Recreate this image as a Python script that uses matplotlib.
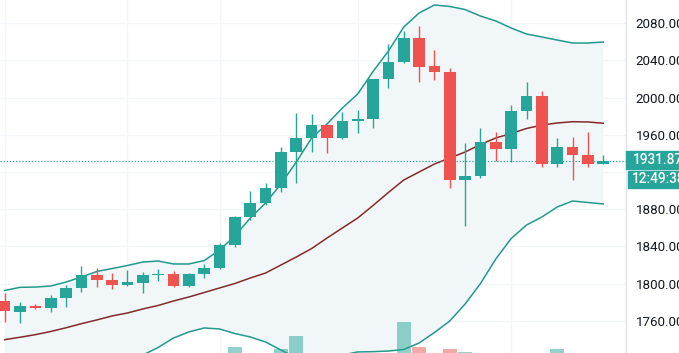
import matplotlib
matplotlib.use("Agg")
import matplotlib.pyplot as plt
from matplotlib.patches import Rectangle
import numpy as np

# ---- data ----
opens  = [1781, 1770, 1776, 1774, 1785, 1795, 1809, 1804, 1799, 1801,
          1809, 1810, 1797, 1810, 1817, 1842, 1872, 1887, 1903, 1942,
          1957, 1971, 1957, 1975, 1977, 2020, 2038, 2064, 2034, 2028,
          1911.5, 1916, 1952, 1945, 1986, 2002, 1929, 1947, 1938, 1929]
highs  = [1790, 1780, 1778, 1788, 1799, 1819, 1817, 1811, 1815, 1813,
          1816, 1814, 1811, 1821, 1844, 1873, 1900, 1908, 1947, 1984,
          1983, 1971, 1985, 1987, 2020.5, 2058, 2072, 2077, 2051, 2032,
          1951, 1967, 1963, 1992, 2017, 2007, 1957, 1958, 1963, 1938]
lows   = [1759, 1758, 1773, 1770, 1775, 1791, 1796, 1794, 1798, 1790,
          1803, 1796, 1796, 1806, 1816, 1839.5, 1868, 1885, 1899, 1908,
          1941.6, 1940, 1956, 1962, 1967, 2010, 2037, 2017, 2019, 1903,
          1862, 1914, 1932, 1931, 1977, 1925.5, 1925.5, 1911.5, 1925.5, 1928.5]
closes = [1771, 1776, 1774, 1785, 1795, 1809, 1804, 1799, 1802, 1809,
          1810.5, 1797, 1810, 1817, 1842, 1872, 1887, 1903, 1942, 1957,
          1971, 1957, 1975, 1977, 2020, 2038, 2064, 2033, 2028, 1911.5,
          1916, 1952, 1945, 1986, 2002, 1929, 1947, 1938, 1929, 1931.87]

bb_upper = [1792.7, 1796.1, 1796.4, 1797.5, 1801.8, 1807.2, 1813.1, 1816.3, 1819.6, 1823.3,
            1824.4, 1821.2, 1821.2, 1824.9, 1836.2, 1851.3, 1870.6, 1886.8, 1907.2, 1930.9,
            1956.7, 1971.7, 1988.9, 2004.0, 2028.2, 2050.2, 2076.0, 2091.1, 2099.7, 2098.1,
            2094.8, 2087.8, 2082.5, 2074.9, 2068.5, 2065.3, 2062.0, 2058.8, 2058.8, 2059.9]
bb_basis = [1739.8, 1742.4, 1745.2, 1748.6, 1752.6, 1757.0, 1761.0, 1765.3, 1768.5, 1772.8,
            1776.6, 1781.4, 1785.7, 1790.5, 1795.4, 1800.2, 1806.1, 1811.5, 1820.1, 1828.7,
            1837.8, 1849.1, 1859.9, 1870.6, 1884.1, 1898.1, 1911.5, 1920.1, 1928.7, 1935.2,
            1941.6, 1949.7, 1956.7, 1961.5, 1966.9, 1970.6, 1972.8, 1974.2, 1973.9, 1972.5]
bb_lower = [1686.8, 1688.9, 1694.3, 1699.7, 1703.3, 1707.2, 1708.8, 1714.2, 1717.4, 1723.3,
            1731.4, 1741.6, 1748.1, 1752.4, 1751.3, 1746.4, 1742.7, 1737.3, 1728.7, 1720.1,
            1715.8, 1717.9, 1723.3, 1726.6, 1726.9, 1727.6, 1729.2, 1736.2, 1747.5, 1759.9,
            1778.2, 1800.2, 1826.6, 1848.6, 1863.1, 1871.7, 1882.5, 1888.9, 1887.3, 1885.7]

volumes = [70, 65, 55, 60, 72, 80, 62, 58, 50, 66,
           48, 75, 78, 70, 95, 112, 98, 96, 108, 134,
           90, 85, 70, 60, 97, 94, 162, 112, 88, 108,
           103, 92, 70, 95, 80, 99, 108, 76, 74, 40]

price_ticks = [1760, 1800, 1840, 1880, 1960, 2000, 2040, 2080]
grid_prices = [1760, 1800, 1840, 1880, 1920, 1960, 2000, 2040, 2080]
grid_candles = [0, 8, 14, 23, 33]
last_price_label = "1931.87"
countdown_label = "12:49:38"

# ---- style ----
UP = "#26a69a"
DOWN = "#ef5350"
BAND = "#22998c"
BASIS = "#842a2b"
FILL = "#f1f7f8"
GRID = "#f3f5f9"
TEXT = "#131722"

W, H = 679, 353
fig = plt.figure(figsize=(W / 100, H / 100), dpi=100)
axw = 626 / W
ax = fig.add_axes([0, 0, axw, 1])
axv = fig.add_axes([0, 0, axw, 1], sharex=ax)
ax.set_zorder(1)
axv.set_zorder(2)
axv.patch.set_visible(False)

x = np.arange(len(opens))
o = np.array(opens); h = np.array(highs); l = np.array(lows); c = np.array(closes)
up = c >= o
colors = np.where(up, UP, DOWN)

# volume (pane bottom lies below the visible crop)
axv.bar(x, volumes, width=0.9, color=colors, alpha=0.5, linewidth=0)
axv.set_ylim(100, 100 + 353 * 2)
axv.axis("off")

# grid
for gp in grid_prices:
    ax.axhline(gp, color=GRID, lw=1, zorder=0)
for gc in grid_candles:
    ax.axvline(gc, color=GRID, lw=1, zorder=0)

# Bollinger bands
ax.fill_between(x, bb_lower, bb_upper, color=FILL, zorder=0.5, linewidth=0)
ax.plot(x, bb_upper, color=BAND, lw=1.1, zorder=2)
ax.plot(x, bb_lower, color=BAND, lw=1.1, zorder=2)
ax.plot(x, bb_basis, color=BASIS, lw=1.1, zorder=2)

# candles
ax.vlines(x, l, h, colors=colors, lw=1.0, zorder=3)
bottoms = np.minimum(o, c)
heights = np.maximum(np.abs(c - o), 1.6)
ax.bar(x, heights, bottom=bottoms, width=0.76, color=colors, linewidth=0, zorder=4)

# last price dotted line
ax.axhline(closes[-1], color=UP, lw=0.9, ls=(0, (1, 1.5)), zorder=2.5)

ax.set_xlim(-4.65 / 15.35, (626 - 4.65) / 15.35)
ymax = 2080 + 23.3 * 1.0753
ymin = 2080 - (353 - 23.3) * 1.0753
ax.set_ylim(ymin, ymax)

for s in ["top", "left", "bottom"]:
    ax.spines[s].set_visible(False)
ax.spines["right"].set_color("#e0e3eb")
ax.spines["right"].set_linewidth(1)
ax.set_xticks([])
ax.yaxis.tick_right()
ax.set_yticks(price_ticks)
ax.set_yticklabels([f"{p:.2f}" for p in price_ticks])
ax.tick_params(axis="y", length=0, pad=7, labelsize=9.6, labelcolor=TEXT)
for t in ax.get_yticklabels():
    t.set_fontfamily("Roboto")

# price label boxes
def fy(py):
    return 1 - py / H

fig.patches.append(Rectangle((626 / W, fy(169.3)), (W - 626) / W, (169.3 - 150.7) / H,
                             transform=fig.transFigure, color=UP, zorder=5))
fig.patches.append(Rectangle((628 / W, fy(187.5)), (W - 628) / W, (187.5 - 170.8) / H,
                             transform=fig.transFigure, color=UP, zorder=5))
fig.text(633 / W, fy(160.2), last_price_label, color="white", fontsize=9.8,
         fontfamily="Roboto", fontweight="medium", va="center", ha="left", zorder=6)
fig.text(632 / W, fy(179.2), countdown_label, color="white", fontsize=9.8,
         fontfamily="Roboto", fontweight="medium", va="center", ha="left", zorder=6)

fig.savefig("out.png", dpi=100)
